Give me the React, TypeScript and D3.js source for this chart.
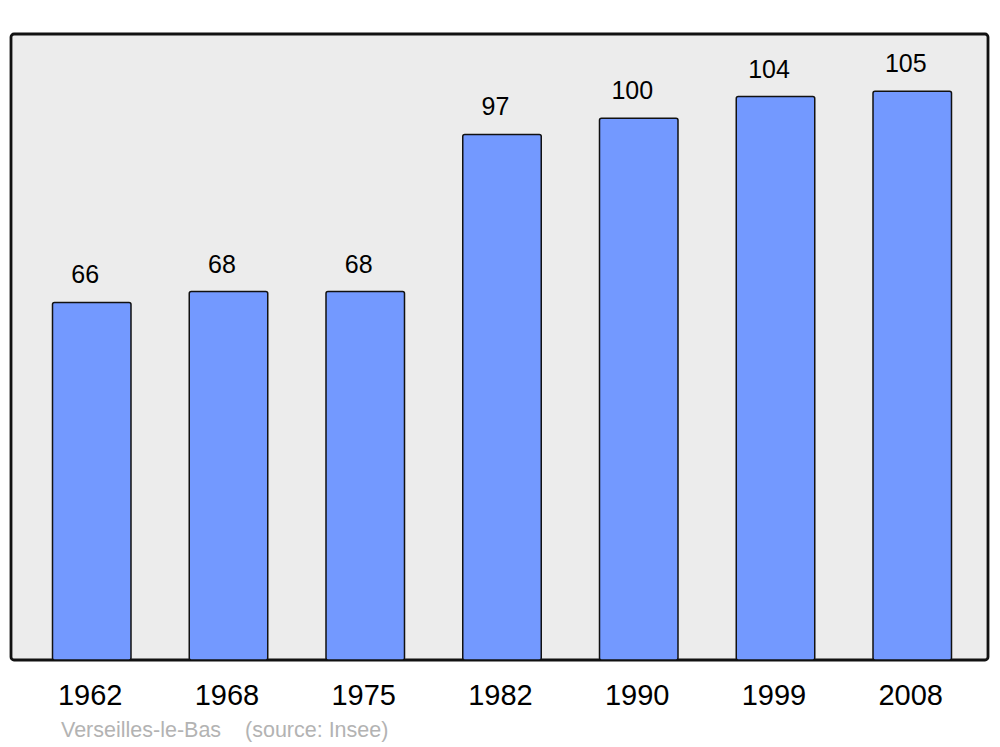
import React from "react";
import * as d3 from "d3";

const years = ["1962", "1968", "1975", "1982", "1990", "1999", "2008"];
const population = [66, 68, 68, 97, 100, 104, 105];
const sourceText = "Verseilles-le-Bas    (source: Insee)";

export default function App() {
  const W = 1000, H = 747;
  const panel = { x: 11, y: 34, w: 977, h: 626 };
  const x = d3.scaleBand<string>().domain(years).range([52.5, 951.5]).paddingInner(0.426).paddingOuter(0);
  const y = d3.scaleLinear().domain([0, 115.55]).range([660, 34]);
  const font = "'Liberation Sans', Arial, sans-serif";
  return (
    <svg width={W} height={H} style={{ position: "absolute", left: 0, top: 0 }} fontFamily={font}>
      <rect x={panel.x} y={panel.y} width={panel.w} height={panel.h} rx={3} ry={3} fill="#ececec" stroke="#111" strokeWidth={2.8} />
      {years.map((yr, i) => {
        const bx = x(yr)!;
        const by = y(population[i]);
        return (
          <g key={yr}>
            <rect x={bx} y={by} width={x.bandwidth()} height={y(0) - by} rx={2} ry={2} fill="#7399ff" stroke="#111" strokeWidth={1.5} />
            <text x={bx + x.bandwidth() / 2 - 6.5} y={by - 19} textAnchor="middle" fontSize={25} fill="#000">{population[i]}</text>
            <text x={bx + x.bandwidth() / 2 - 1.5} y={705} textAnchor="middle" fontSize={29} fill="#000">{yr}</text>
          </g>
        );
      })}
      <text x={61} y={737} fontSize={21.5} fill="#b3b3b3" style={{ whiteSpace: "pre" }}>{sourceText}</text>
    </svg>
  );
}
